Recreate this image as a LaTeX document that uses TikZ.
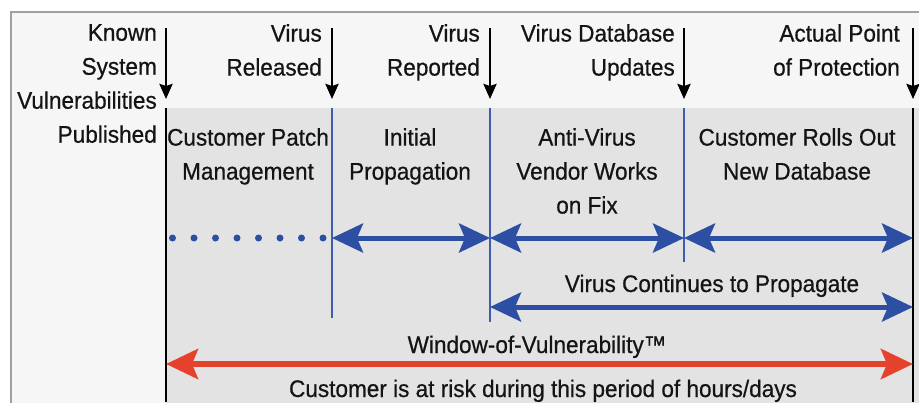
\documentclass[tikz,border=0pt]{standalone}
\usepackage{fontspec}
\setmainfont{Liberation Sans}[FakeStretch=0.94, FakeBold=0.6]
\usetikzlibrary{arrows.meta}
\definecolor{frameg}{HTML}{A0A0A0}
\definecolor{bgg}{HTML}{F6F6F6}
\definecolor{shadeg}{HTML}{E3E3E3}
\definecolor{vblue}{HTML}{2C4FA3}
\definecolor{lblue}{HTML}{3E5DAE}
\definecolor{vred}{HTML}{E5422D}
\definecolor{txt}{HTML}{141414}
\begin{document}
\begin{tikzpicture}[x=1pt,y=-1pt,
  every node/.style={text=txt, inner sep=0pt},
  lbl/.style={font=\fontsize{24}{34}\selectfont, align=right, anchor=north east},
  phase/.style={font=\fontsize{24}{34}\selectfont, align=center, anchor=north},
  note/.style={font=\fontsize{24}{34}\selectfont, anchor=base},
  downarr/.style={line width=2.5pt, black, -{Stealth[length=15pt,width=13pt,inset=2pt]}},
  blackline/.style={line width=2.2pt, black},
  blueline/.style={line width=2pt, lblue},
  barr/.style={line width=5pt, vblue, {Stealth[length=31pt,width=29pt,inset=6pt]}-{Stealth[length=31pt,width=29pt,inset=6pt]}},
  rarr/.style={line width=6pt, vred, {Stealth[length=32pt,width=30pt,inset=6pt]}-{Stealth[length=32pt,width=30pt,inset=6pt]}},
  dots/.style={line width=7pt, vblue, line cap=round, dash pattern=on 0pt off 21.5pt}
]
\useasboundingbox (0,0) rectangle (919,402);
\begin{scope}
  \clip (0,0) rectangle (919,402);
  \draw[frameg, line width=2pt, fill=bgg] (11,12) rectangle (935,430);
  \fill[shadeg] (166,108) rectangle (919,430);
\end{scope}

% timeline points
\coordinate (p0) at (166,108);
\coordinate (p1) at (332,108);
\coordinate (p2) at (490,108);
\coordinate (p3) at (684,108);
\coordinate (p4) at (913,108);
\coordinate (q0) at (166,402);
\coordinate (q1) at (332,318);
\coordinate (q2) at (490,322);
\coordinate (q3) at (684,262);
\coordinate (q4) at (913,402);

\draw[blackline] (p0) -- (q0);
\draw[blueline] (p1) -- (q1);
\draw[blueline] (p2) -- (q2);
\draw[blueline] (p3) -- (q3);
\draw[blackline] (p4) -- (q4);

% down arrows
\foreach \i/\x in {0/166,1/332,2/490,3/684,4/913}{
  \coordinate (s\i) at (\x,28);
  \coordinate (e\i) at (\x,99);
  \draw[downarr] (s\i) -- (e\i);
}

% event labels
\node[lbl] (ev0) at (157,24) {Known\\System\\Vulnerabilities\\Published};
\node[lbl] (ev1) at (322,24) {Virus\\Released};
\node[lbl] (ev2) at (480,24) {Virus\\Reported};
\node[lbl] (ev3) at (675,24) {Virus Database\\Updates};
\node[lbl] (ev4) at (900,24) {Actual Point\\of Protection};

% phase labels
\node[phase] (ph1) at (248,128) {Customer Patch\\Management};
\node[phase] (ph2) at (410,128) {Initial\\Propagation};
\node[phase] (ph3) at (587,128) {Anti-Virus\\Vendor Works\\on Fix};
\node[phase] (ph4) at (797,128) {Customer Rolls Out\\New Database};

% arrow row
\coordinate (d0) at (172,238);
\coordinate (m1) at (332,238);
\coordinate (m2) at (490,238);
\coordinate (m3) at (684,238);
\coordinate (m4) at (913,238);
\coordinate (d1) at (323,238);
\draw[dots] (d1) -- (d0);
\draw[barr] (m1) -- (m2);
\draw[barr] (m2) -- (m3);
\draw[barr] (m3) -- (m4);

\node[note] (vc) at (712,292) {Virus Continues to Propagate};
\coordinate (c2) at (490,307);
\coordinate (c4) at (913,307);
\draw[barr] (c2) -- (c4);

\node[note] (wv) at (537,353) {Window-of-Vulnerability™};
\coordinate (r0) at (166,364);
\coordinate (r4) at (913,364);
\draw[rarr] (r0) -- (r4);
\node[note] (risk) at (543,397) {Customer is at risk during this period of hours/days};
\end{tikzpicture}
\end{document}
